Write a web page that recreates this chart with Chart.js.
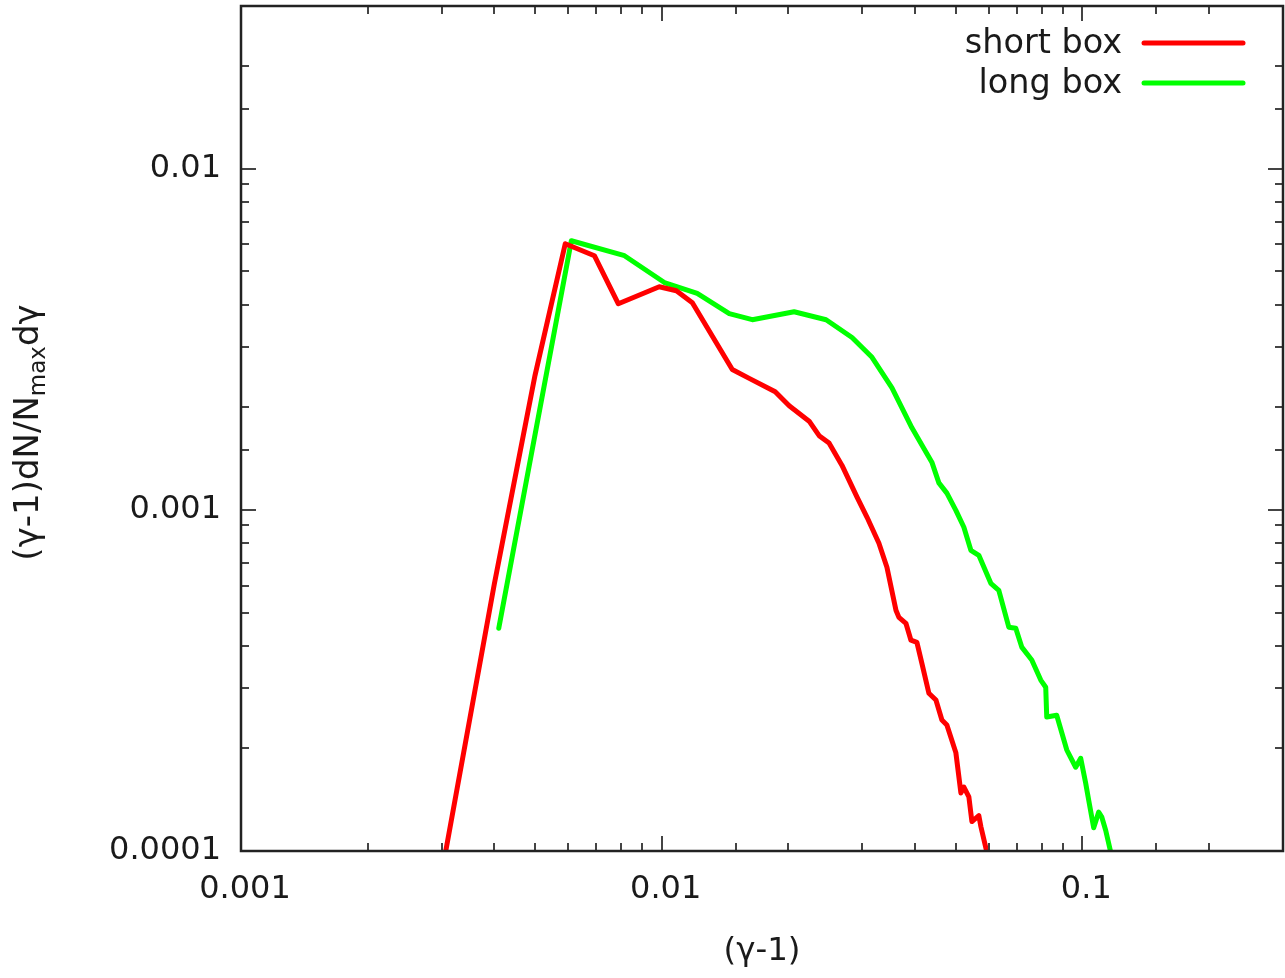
<!DOCTYPE html>
<html><head><meta charset="utf-8">
<script src="https://cdn.jsdelivr.net/npm/chart.js@4.4.1/dist/chart.umd.min.js"></script>
<style>html,body{margin:0;padding:0;background:#fff;}#wrap{width:1285px;height:978px;}</style>
</head><body><div id="wrap"><canvas id="c" width="1285" height="978"></canvas></div>
<script>
const seriesNames = ['short box', 'long box'];
const seriesColors = ['#ff0000', '#00ff00'];
const shortBoxX = [0.003, 0.004, 0.005, 0.0059, 0.00692, 0.00789, 0.00987, 0.01084, 0.01183, 0.01472, 0.01615, 0.01862, 0.02010, 0.02242, 0.02368, 0.02500, 0.02684, 0.02914, 0.03078, 0.03285, 0.03432, 0.03606, 0.03665, 0.03808, 0.03914, 0.04044, 0.04156, 0.04318, 0.04488, 0.04637, 0.04765, 0.05006, 0.05145, 0.05230, 0.05375, 0.05464, 0.05676, 0.05739, 0.05930];
const shortBoxY = [0.000086, 0.000605, 0.00248, 0.00603, 0.00556, 0.00402, 0.00451, 0.00439, 0.00405, 0.00258, 0.00243, 0.00222, 0.00202, 0.00182, 0.00165, 0.00157, 0.00135, 0.00109, 0.000951, 0.000798, 0.000679, 0.000508, 0.000484, 0.000465, 0.000415, 0.000409, 0.000355, 0.000290, 0.000277, 0.000242, 0.000234, 0.000194, 0.000148, 0.000154, 0.000144, 0.000122, 0.000127, 0.000118, 0.0000993];
const longBoxX = [0.0041, 0.0061, 0.00816, 0.01015, 0.01215, 0.01448, 0.01642, 0.02065, 0.02460, 0.02835, 0.03163, 0.03528, 0.03935, 0.04272, 0.04389, 0.04561, 0.04765, 0.05006, 0.05230, 0.05434, 0.05676, 0.06061, 0.06332, 0.06688, 0.06948, 0.07179, 0.07584, 0.07966, 0.08186, 0.08231, 0.08693, 0.09183, 0.09645, 0.09913, 0.10188, 0.10356, 0.10644, 0.10939, 0.11120, 0.11365, 0.11681];
const longBoxY = [0.00045, 0.00615, 0.00556, 0.00464, 0.00431, 0.00376, 0.00361, 0.00381, 0.00361, 0.00320, 0.00280, 0.00228, 0.00174, 0.00146, 0.00138, 0.00120, 0.00112, 0.000997, 0.000889, 0.000761, 0.000736, 0.000609, 0.000581, 0.000453, 0.000450, 0.000396, 0.000363, 0.000317, 0.000302, 0.000247, 0.000250, 0.000198, 0.000176, 0.000187, 0.000158, 0.000141, 0.000117, 0.000130, 0.000126, 0.000115, 0.0000993];
const xTickLabels = ['0.001', '0.01', '0.1'];
const yTickLabels = ['0.0001', '0.001', '0.01'];
const xRange = [0.001, 0.3];
const yRange = [0.0001, 0.03];
const xTitle = '(γ-1)';
const yTitleParts = ['(γ-1)dN/N', 'max', 'dγ'];

const FONT = '"DejaVu Sans", sans-serif';
const TEXT = '#1a1a1a';

function isDecade(v) {
  const l = Math.log10(v);
  return Math.abs(l - Math.round(l)) < 1e-6;
}
function decadeLabel(v, labels) {
  if (!isDecade(v)) return '';
  const e = Math.round(Math.log10(v));
  const s = labels.find(l => Math.round(Math.log10(parseFloat(l))) === e);
  return s || '';
}
function zeroPad(s) { s.paddingTop = 0; s.paddingBottom = 0; s.paddingLeft = 0; s.paddingRight = 0; }

const framePlugin = {
  id: 'frame',
  afterDatasetsDraw(chart) {
    const { ctx, chartArea: a, scales } = chart;
    const xs = scales.x, ys = scales.y;
    ctx.save();
    ctx.strokeStyle = '#444';
    ctx.lineWidth = 2;
    ctx.beginPath();
    xs.ticks.forEach(t => {
      const px = Math.round(xs.getPixelForValue(t.value));
      if (px <= a.left + 1 || px >= a.right - 1) return;
      const len = isDecade(t.value) ? 15 : 8;
      ctx.moveTo(px, a.bottom); ctx.lineTo(px, a.bottom - len);
      ctx.moveTo(px, a.top); ctx.lineTo(px, a.top + len);
    });
    ys.ticks.forEach(t => {
      const py = Math.round(ys.getPixelForValue(t.value));
      if (py <= a.top + 1 || py >= a.bottom - 1) return;
      const len = isDecade(t.value) ? 15 : 8;
      ctx.moveTo(a.left, py); ctx.lineTo(a.left + len, py);
      ctx.moveTo(a.right, py); ctx.lineTo(a.right - len, py);
    });
    ctx.stroke();
    ctx.strokeStyle = '#222';
    ctx.lineWidth = 2.5;
    ctx.strokeRect(a.left, a.top, a.right - a.left, a.bottom - a.top);
    ctx.restore();
  },
  afterDraw(chart) {
    const { ctx, chartArea: a } = chart;
    ctx.save();
    ctx.font = '33.5px ' + FONT;
    ctx.textAlign = 'right';
    ctx.textBaseline = 'middle';
    chart.data.datasets.forEach((ds, i) => {
      const y = 43 + 40 * i;
      ctx.fillStyle = TEXT;
      ctx.fillText(ds.label, 1122, y + 1);
      ctx.strokeStyle = ds.borderColor;
      ctx.lineWidth = 5;
      ctx.lineCap = 'round';
      ctx.beginPath();
      ctx.moveTo(1144, y); ctx.lineTo(1243, y);
      ctx.stroke();
    });
    ctx.translate(29, (a.top + a.bottom) / 2 + 4);
    ctx.rotate(-Math.PI / 2);
    ctx.textAlign = 'left';
    ctx.textBaseline = 'middle';
    const main = '34px ' + FONT, sub = '23px ' + FONT;
    ctx.font = main; const w1 = ctx.measureText(yTitleParts[0]).width;
    ctx.font = sub; const w2 = ctx.measureText(yTitleParts[1]).width;
    ctx.font = main; const w3 = ctx.measureText(yTitleParts[2]).width;
    let x0 = -(w1 + w2 + w3) / 2;
    ctx.fillStyle = TEXT;
    ctx.font = main; ctx.fillText(yTitleParts[0], x0, 0);
    ctx.font = sub; ctx.fillText(yTitleParts[1], x0 + w1, 10);
    ctx.font = main; ctx.fillText(yTitleParts[2], x0 + w1 + w2, 0);
    ctx.restore();
  }
};

const mk = (xs, ys) => xs.map((x, i) => ({ x: x, y: ys[i] }));

new Chart(document.getElementById('c'), {
  type: 'scatter',
  data: {
    datasets: [
      { label: seriesNames[0], data: mk(shortBoxX, shortBoxY), borderColor: seriesColors[0], backgroundColor: seriesColors[0] },
      { label: seriesNames[1], data: mk(longBoxX, longBoxY), borderColor: seriesColors[1], backgroundColor: seriesColors[1] }
    ]
  },
  options: {
    responsive: false,
    devicePixelRatio: 1,
    animation: false,
    showLine: true,
    clip: 0,
    elements: {
      point: { radius: 0, hoverRadius: 0 },
      line: { borderWidth: 5, tension: 0, borderJoinStyle: 'round', borderCapStyle: 'round', fill: false }
    },
    layout: { padding: { top: 6, right: 2, left: 0, bottom: 0 } },
    plugins: { legend: { display: false }, tooltip: { enabled: false } },
    scales: {
      x: {
        type: 'logarithmic',
        min: xRange[0], max: xRange[1],
        afterFit(s) { s.height = 127; zeroPad(s); },
        grid: { display: false, drawTicks: false },
        border: { display: false },
        ticks: {
          autoSkip: false, maxRotation: 0, minRotation: 0,
          padding: 19, labelOffset: 4,
          color: TEXT, font: { family: FONT, size: 32 },
          callback: v => decadeLabel(v, xTickLabels)
        },
        title: { display: true, text: xTitle, color: TEXT, font: { family: FONT, size: 32.5 }, padding: { top: 0, bottom: 7 } }
      },
      y: {
        type: 'logarithmic',
        min: yRange[0], max: yRange[1],
        afterFit(s) { s.width = 241; zeroPad(s); },
        grid: { display: false, drawTicks: false },
        border: { display: false },
        ticks: {
          autoSkip: false, padding: 20,
          color: TEXT, font: { family: FONT, size: 32 },
          callback: v => decadeLabel(v, yTickLabels)
        }
      }
    }
  },
  plugins: [framePlugin]
});
</script>
</body></html>
